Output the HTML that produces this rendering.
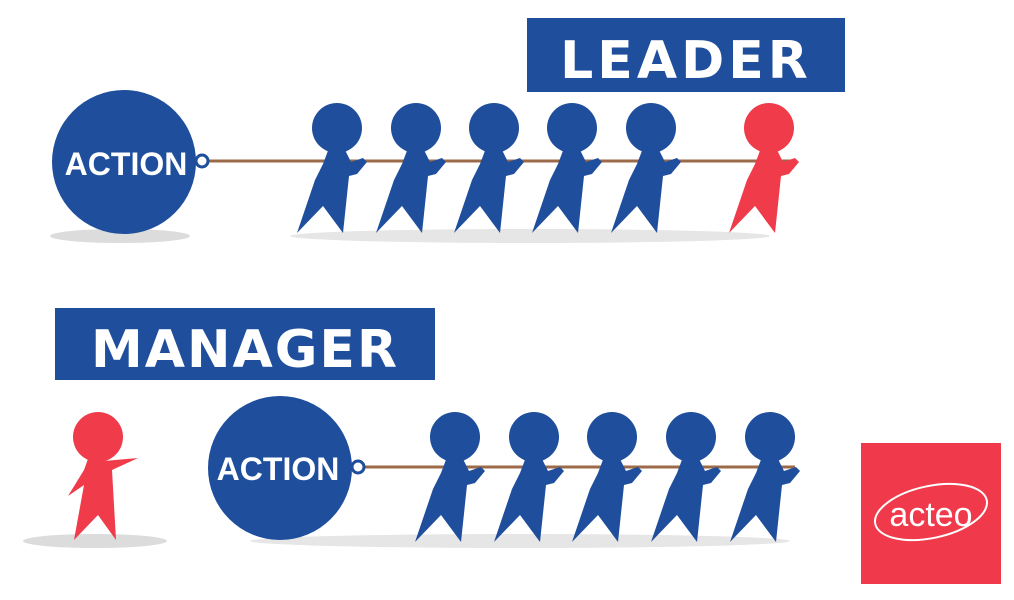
<!DOCTYPE html><html><head><style>body{margin:0;background:#fff}svg{display:block}</style></head><body>
<svg width="1014" height="600" viewBox="0 0 1014 600" xmlns="http://www.w3.org/2000/svg">
<defs>
<path id="f" d="M-8,20 L8,22 L14,34 L26,30 L30,34 L20,46 L12,48 L6,105 L-14,78 L-40,105 L-22,52 L-14,36 Z"/>
</defs>
<rect x="527" y="18" width="318" height="74" fill="#1e4e9c"/>
<text x="686" y="78" text-anchor="middle" font-family="DejaVu Sans, sans-serif" font-weight="bold" font-size="52" fill="#fff" letter-spacing="4">LEADER</text>
<rect x="55" y="308" width="380" height="72" fill="#1e4e9c"/>
<text x="245" y="367" text-anchor="middle" font-family="DejaVu Sans, sans-serif" font-weight="bold" font-size="52" fill="#fff" letter-spacing="2">MANAGER</text>
<ellipse cx="120" cy="236" rx="70" ry="7" fill="#dcdcdc"/>
<ellipse cx="530" cy="236" rx="240" ry="7" fill="#e6e6e6"/>
<ellipse cx="95" cy="541" rx="72" ry="7" fill="#dcdcdc"/>
<ellipse cx="520" cy="541" rx="270" ry="7" fill="#e6e6e6"/>
<line x1="205" y1="161" x2="795" y2="161" stroke="#9b6a48" stroke-width="3"/>
<circle cx="124" cy="162" r="72" fill="#1e4e9c"/>
<circle cx="202" cy="161" r="6" fill="#fff" stroke="#1e4e9c" stroke-width="3"/>
<text x="126" y="175" text-anchor="middle" font-family="Liberation Sans Narrow, Liberation Sans, sans-serif" font-weight="bold" font-size="32" fill="#fff">ACTION</text>
<g fill="#1e4e9c">
<circle cx="337" cy="128" r="25"/><use href="#f" x="337" y="128"/>
<circle cx="416" cy="128" r="25"/><use href="#f" x="416" y="128"/>
<circle cx="494" cy="128" r="25"/><use href="#f" x="494" y="128"/>
<circle cx="572" cy="128" r="25"/><use href="#f" x="572" y="128"/>
<circle cx="651" cy="128" r="25"/><use href="#f" x="651" y="128"/>
</g>
<g fill="#ef3b4a"><circle cx="769" cy="128" r="25"/><use href="#f" x="769" y="128"/></g>
<line x1="360" y1="467" x2="795" y2="467" stroke="#9b6a48" stroke-width="3"/>
<circle cx="280" cy="468" r="72" fill="#1e4e9c"/>
<circle cx="358" cy="467" r="6" fill="#fff" stroke="#1e4e9c" stroke-width="3"/>
<text x="278" y="480" text-anchor="middle" font-family="Liberation Sans Narrow, Liberation Sans, sans-serif" font-weight="bold" font-size="32" fill="#fff">ACTION</text>
<g fill="#1e4e9c">
<circle cx="455" cy="437" r="25"/><use href="#f" x="455" y="437"/>
<circle cx="534" cy="437" r="25"/><use href="#f" x="534" y="437"/>
<circle cx="612" cy="437" r="25"/><use href="#f" x="612" y="437"/>
<circle cx="691" cy="437" r="25"/><use href="#f" x="691" y="437"/>
<circle cx="770" cy="437" r="25"/><use href="#f" x="770" y="437"/>
</g>
<g fill="#ef3b4a">
<circle cx="98" cy="437" r="25"/>
<path d="M88,459 L104,461 L138,458 L112,470 L116,540 L98,515 L74,540 L84,485 L68,496 L84,470 Z"/>
</g>
<rect x="861" y="443" width="140" height="141" fill="#f0394a"/>
<ellipse cx="931" cy="512" rx="57" ry="26" fill="none" stroke="#fff" stroke-width="2" transform="rotate(-12 931 512)"/>
<text x="931" y="526" text-anchor="middle" font-family="Liberation Sans, sans-serif" font-size="34" fill="#fff">acteo</text>
</svg>
</body></html>
